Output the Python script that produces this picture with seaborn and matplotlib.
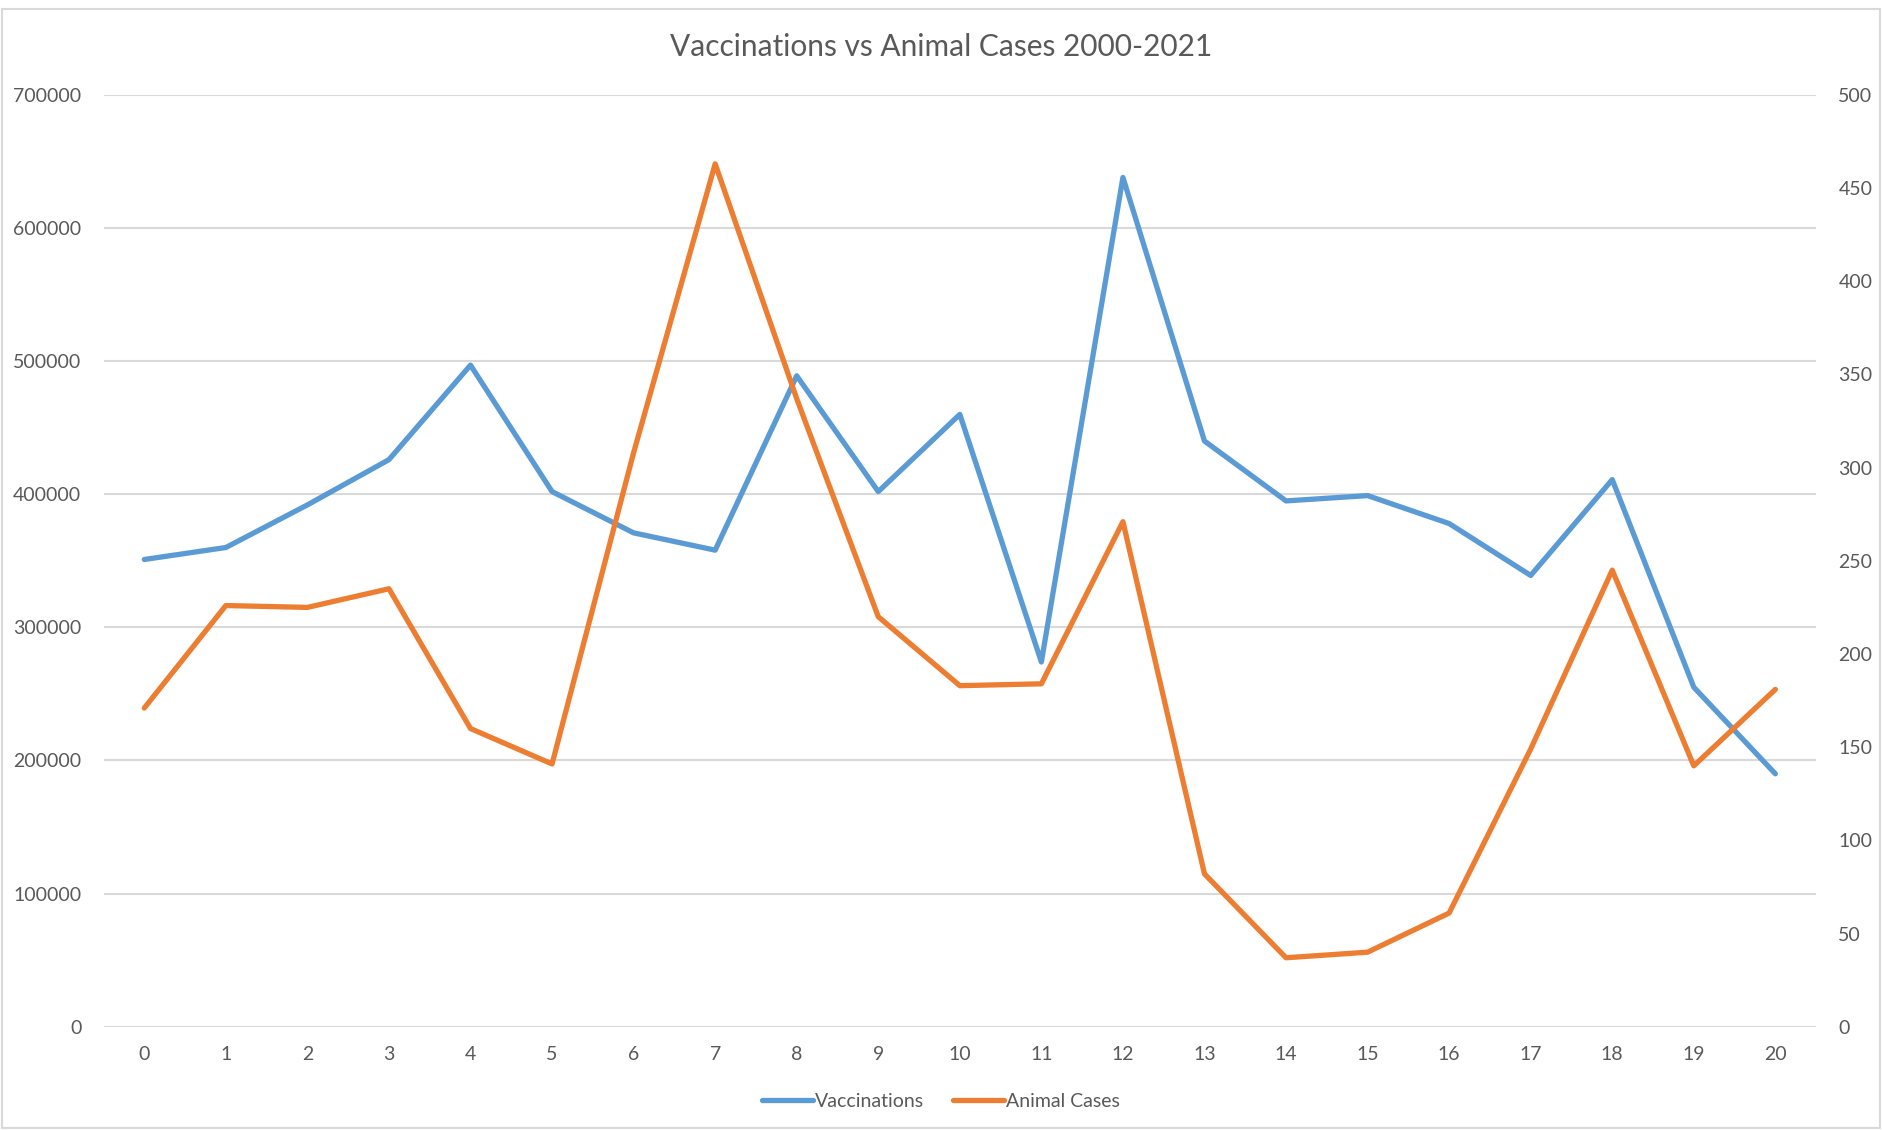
import matplotlib
matplotlib.use("Agg")
import matplotlib.pyplot as plt
import pandas as pd
import seaborn as sns
from matplotlib.lines import Line2D
from matplotlib.patches import Rectangle

# data
years = list(range(21))
vaccinations = [351000, 360000, 392000, 426000, 497000, 402000, 371000, 358000, 489000, 402000,
                460000, 274000, 638000, 440000, 395000, 399000, 378000, 339000, 411000, 255000, 190000]
animal_cases = [171, 226, 225, 235, 160, 141, 308, 463, 337, 220,
                183, 184, 271, 82, 37, 40, 61, 149, 245, 140, 181]

df = pd.DataFrame({'year': years, 'Vaccinations': vaccinations, 'Animal Cases': animal_cases})

sns.set_style('white')
plt.rcParams['font.family'] = ['Lato', 'DejaVu Sans']

blue = '#5B9BD5'
orange = '#ED7D31'
text_gray = '#595959'

fig = plt.figure(figsize=(18.82, 11.3), dpi=100)
ax = fig.add_axes([0.055, 0.0914, 0.91, 0.8246])
ax2 = ax.twinx()

sns.lineplot(data=df, x='year', y='Vaccinations', ax=ax, color=blue, linewidth=3.8, legend=False)
sns.lineplot(data=df, x='year', y='Animal Cases', ax=ax2, color=orange, linewidth=3.8, legend=False)

ax.set_xlim(-0.5, 20.5)
ax.set_ylim(0, 700000)
ax2.set_ylim(0, 500)
ax.set_yticks(range(0, 700001, 100000))
ax2.set_yticks(range(0, 501, 50))
ax.set_xticks(years)
ax.set_xticklabels([str(y) for y in years])

ax.yaxis.grid(True, color='#D9D9D9', linewidth=1.5)
ax.set_axisbelow(True)
ax2.grid(False)
for a in (ax, ax2):
    for s in a.spines.values():
        s.set_visible(False)
    a.set_xlabel('')
    a.set_ylabel('')
    a.tick_params(length=0, labelsize=14, colors=text_gray)
ax.tick_params(axis='y', pad=16)
ax2.tick_params(axis='y', pad=16)
ax.tick_params(axis='x', pad=14)

fig.suptitle('Vaccinations vs Animal Cases 2000-2021', y=0.958, va='center', fontsize=21.5, color=text_gray)

handles = [Line2D([0], [0], color=blue, lw=3.8), Line2D([0], [0], color=orange, lw=3.8)]
fig.legend(handles, ['Vaccinations', 'Animal Cases'], loc='center', bbox_to_anchor=(0.5, 0.025),
           ncol=2, frameon=False, fontsize=14, labelcolor=text_gray, handlelength=2.6,
           handletextpad=0.1, columnspacing=1.5)

# light chart-area border like the original
fig.patches.append(Rectangle((0.001, 0.002), 0.998, 0.99, transform=fig.transFigure,
                             fill=False, edgecolor='#D9D9D9', linewidth=1.5))

fig.savefig('out.png', dpi=100)
